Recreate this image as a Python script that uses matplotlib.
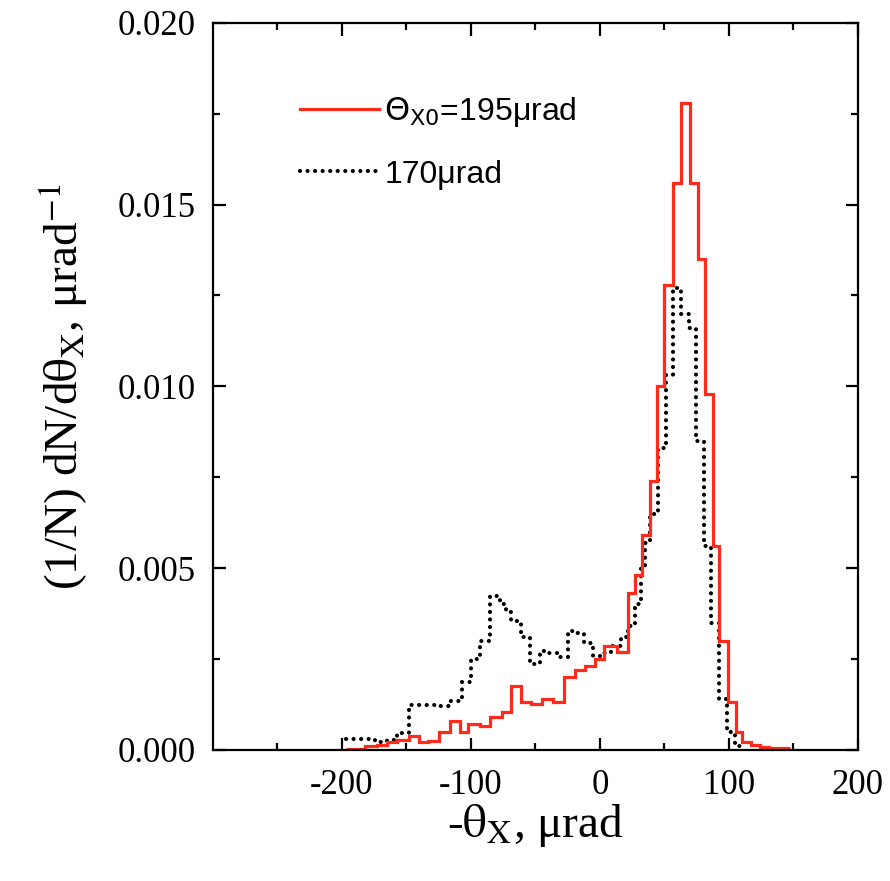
import numpy as np
import matplotlib
matplotlib.use("Agg")
import matplotlib.pyplot as plt
from matplotlib.lines import Line2D

# red histogram, theta_X0 = 195 urad  (bin edges in urad, heights in 1/urad)
red_edges = [-197, -182, -173, -165, -157, -148, -140.5, -133, -125, -116, -108, -102,
             -93, -85, -76, -68.5, -61, -53, -45, -36.5, -27.5, -19.5, -11.5, -4, 3, 13,
             21.5, 27, 32.5, 38.5, 44.5, 50, 56.5, 63, 69.5, 76, 81.5, 87.5, 92.5, 99,
             105.5, 110.5, 117, 124, 131, 138, 147.5]
red_vals = [0.00003, 0.0001, 0.00014, 0.0002, 0.00028, 0.00037, 0.0002, 0.00023, 0.0005,
            0.00078, 0.0005, 0.00072, 0.00064, 0.0009, 0.00105, 0.00175, 0.0013, 0.00125,
            0.0014, 0.0013, 0.002, 0.0022, 0.0023, 0.0025, 0.00285, 0.0027,
            0.0043, 0.0048, 0.0059, 0.0074, 0.0100, 0.0128, 0.0156, 0.0178, 0.0156,
            0.0135, 0.0098, 0.0056, 0.0030, 0.0013, 0.0005, 0.0002, 0.00012, 0.00008,
            0.00005, 0.00004]

# black histogram, 170 urad
blk_edges = [-197, -174, -165, -157, -148, -125, -117, -107, -99.5, -93, -85, -77.5, -73,
             -68.5, -61, -54.5, -46.5, -40, -33.5, -24.5, -19.5, -12, -5.5, 1, 8.5, 16.5,
             21.5, 27, 32, 35, 38.5, 44.8, 51, 57, 63, 69, 74.4, 80.8, 86.5, 92.4, 98.8,
             105, 110]
blk_vals = [0.0003, 0.0002, 0.00028, 0.00046, 0.00124, 0.0012, 0.00135, 0.00185, 0.0025,
            0.0030, 0.00424, 0.0040, 0.00378, 0.00354, 0.0031, 0.00235, 0.00272, 0.00265,
            0.00254, 0.00327, 0.0032, 0.00295, 0.00258, 0.00265, 0.00285, 0.0031,
            0.0034, 0.0040, 0.0050, 0.0057, 0.0065, 0.0083, 0.0103, 0.0127, 0.0120,
            0.0116, 0.0085, 0.0056, 0.0035, 0.0014, 0.0005, 0.0001]

x_ticks = [-200, -100, 0, 100, 200]
y_ticks = [0.000, 0.005, 0.010, 0.015, 0.020]

plt.rcParams['font.family'] = ['Liberation Serif', 'DejaVu Serif']

RED = '#ff2a1a'
DOTS = (0, (0.01, 1.8))

fig = plt.figure(figsize=(8.9, 8.81), dpi=100)
ax = fig.add_axes([0.239, 0.149, 0.725, 0.825])

ax.stairs(blk_vals, blk_edges, color='black', linewidth=3.0,
          linestyle=DOTS, baseline=None)
for ln in ax.patches:
    ln.set_capstyle('round')
ax.stairs(red_vals, red_edges, color=RED, linewidth=2.3, baseline=None)

ax.set_xlim(-300, 200)
ax.set_ylim(0, 0.020)
ax.set_xticks(x_ticks)
ax.set_yticks(y_ticks)
ax.set_xticks(np.arange(-250, 200, 50), minor=True)
ax.set_yticks(np.arange(0, 0.0201, 0.0025), minor=True)
ax.set_xticklabels([str(t) for t in x_ticks])
ax.set_yticklabels(['%.3f' % t for t in y_ticks])
ax.tick_params(which='both', direction='in', top=True, right=True, width=1.6,
               labelsize=25)
ax.tick_params(axis='x', pad=14)
ax.tick_params(axis='y', pad=12)
ax.tick_params(which='major', length=9)
ax.tick_params(which='minor', length=5)
for s in ax.spines.values():
    s.set_linewidth(1.6)

ax.set_xlabel(r'-$\mathrm{\theta_X}$, μrad', fontsize=34, labelpad=0,
              math_fontfamily='stix')
ax.set_ylabel(r'(1/N) dN/d$\mathrm{\theta_X}$, μrad$^{\mathrm{-1}}$', fontsize=34,
              labelpad=20, math_fontfamily='stix')

handles = [Line2D([], [], color=RED, linewidth=2.3),
           Line2D([], [], color='black', linewidth=3.0, linestyle=DOTS,
                  dash_capstyle='round')]
leg = ax.legend(handles, [r'$\mathsf{\Theta_{X0}}$=195μrad', '170μrad'],
                loc='upper left', bbox_to_anchor=(0.09, 0.94), frameon=False,
                handlelength=2.5, handletextpad=0.15, labelspacing=0.95,
                prop={'family': 'Liberation Sans', 'size': 23})

fig.savefig('out.png', dpi=100)
